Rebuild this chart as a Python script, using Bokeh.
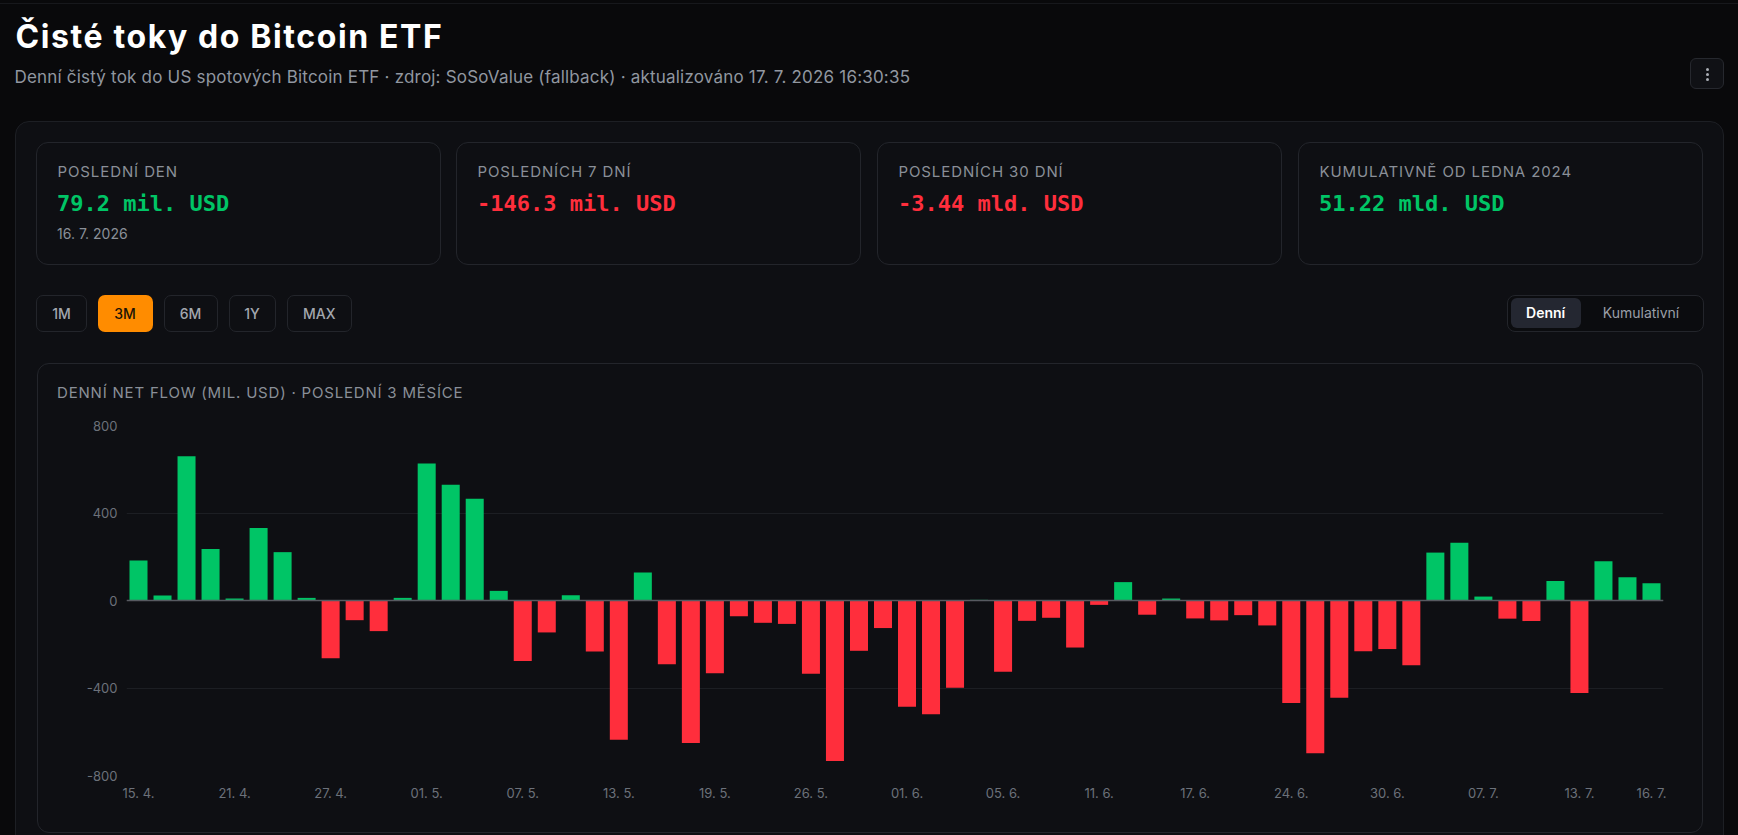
from datetime import date

from bokeh.embed import file_html
from bokeh.layouts import column
from bokeh.models import ColumnDataSource, Div, FixedTicker, Range1d, Span
from bokeh.plotting import figure
from bokeh.resources import INLINE

# ---------------------------------------------------------------- data
trade_dates = [
    "2026-04-15", "2026-04-16", "2026-04-17", "2026-04-20", "2026-04-21",
    "2026-04-22", "2026-04-23", "2026-04-24", "2026-04-27", "2026-04-28",
    "2026-04-29", "2026-04-30", "2026-05-01", "2026-05-04", "2026-05-05",
    "2026-05-06", "2026-05-07", "2026-05-08", "2026-05-11", "2026-05-12",
    "2026-05-13", "2026-05-14", "2026-05-15", "2026-05-18", "2026-05-19",
    "2026-05-20", "2026-05-21", "2026-05-22", "2026-05-26", "2026-05-27",
    "2026-05-28", "2026-05-29", "2026-06-01", "2026-06-02", "2026-06-03",
    "2026-06-04", "2026-06-05", "2026-06-08", "2026-06-09", "2026-06-10",
    "2026-06-11", "2026-06-12", "2026-06-15", "2026-06-16", "2026-06-17",
    "2026-06-18", "2026-06-22", "2026-06-23", "2026-06-24", "2026-06-25",
    "2026-06-26", "2026-06-29", "2026-06-30", "2026-07-01", "2026-07-02",
    "2026-07-06", "2026-07-07", "2026-07-08", "2026-07-09", "2026-07-10",
    "2026-07-13", "2026-07-14", "2026-07-15", "2026-07-16",
]

# daily net flow, mil. USD
net_flow = [
    183, 23, 660, 235, 9, 332, 221, 12, -264, -90,
    -140, 12, 626, 529, 465, 44, -277, -146, 24, -233,
    -637, 128, -291, -651, -332, -72, -102, -107, -335, -734,
    -230, -126, -486, -520, -399, 3, -326, -93, -79, -215,
    -20, 84, -65, 9, -82, -91, -67, -114, -469, -698,
    -445, -232, -222, -296, 219, 264, 18, -83, -94, 89,
    -423, 179, 106.5, 79.2,
]

y_ticks = [-800, -400, 0, 400, 800]
x_tick_idx = [0, 4, 8, 12, 16, 20, 24, 28, 32, 36, 40, 44, 48, 52, 56, 60, 63]

stat_labels = ["POSLEDNÍ DEN", "POSLEDNÍCH 7 DNÍ", "POSLEDNÍCH 30 DNÍ", "KUMULATIVNĚ OD LEDNA 2024"]
stat_values = ["79.2 mil. USD", "-146.3 mil. USD", "-3.44 mld. USD", "51.22 mld. USD"]
stat_notes = ["16. 7. 2026", "", "", ""]

range_buttons = ["1M", "3M", "6M", "1Y", "MAX"]
active_range = "3M"

# ---------------------------------------------------------------- style
PAGE_BG = "#09090b"
PANEL_BG = "#0e0f13"
BORDER = "#23252b"
GREEN = "#00c566"
RED = "#ff2e3c"
ORANGE = "#ff8c00"
MUTED = "#8a8f98"
AXIS_TXT = "#6c717a"

INTER_BASE = 0.864   # baseline offset for line-height 1em
MONO_BASE = 0.846


def text_at(x, baseline, s, size, color, weight=400, family="Inter,sans-serif",
            base=INTER_BASE, extra=""):
    top = baseline - base * size
    return (f'<div style="position:absolute;left:{x}px;top:{top:.1f}px;'
            f'font-family:{family};font-size:{size}px;line-height:{size}px;'
            f'font-weight:{weight};color:{color};white-space:nowrap;{extra}">{s}</div>')


def box(x, y, w, h, bg, border, radius, inner="", extra=""):
    b = f"border:1px solid {border};" if border else ""
    return (f'<div style="position:absolute;left:{x}px;top:{y}px;width:{w}px;height:{h}px;'
            f'background:{bg};{b}border-radius:{radius}px;box-sizing:border-box;{extra}">'
            f'{inner}</div>')


def centered(label, size, color, weight=400):
    return (f'<div style="display:flex;align-items:center;justify-content:center;'
            f'width:100%;height:100%;font-family:Inter,sans-serif;font-size:{size}px;'
            f'font-weight:{weight};color:{color};white-space:nowrap;">{label}</div>')


parts = []
parts.append(box(0, 3, 1738, 1, "#17181c", None, 0))

# header
parts.append(text_at(15.5, 48.3, "Čisté toky do Bitcoin ETF", 32, "#ffffff", weight=700,
                     extra="letter-spacing:1.6px;"))
parts.append(text_at(14.5, 83.3,
                     "Denní čistý tok do US spotových Bitcoin ETF · zdroj: SoSoValue (fallback) · "
                     "aktualizováno 17. 7. 2026 16:30:35", 17, "#9197a0",
                     extra="letter-spacing:0.2px;"))
dots = "".join(
    f'<div style="position:absolute;left:15px;top:{9 + i * 5}px;width:3px;height:3px;'
    f'border-radius:50%;background:#a9adb4;"></div>' for i in range(3))
parts.append(box(1690, 58, 34, 31, "#101115", "#26282e", 6, inner=dots))

# outer panel
parts.append(box(15, 120.5, 1709, 740, PANEL_BG, "#1d1f24", 14))

# stat cards
card_left = [36, 456, 877, 1298]
for i, cx in enumerate(card_left):
    parts.append(box(cx, 141.5, 405, 123, PANEL_BG, BORDER, 12))
    val_color = RED if stat_values[i].startswith("-") else GREEN
    parts.append(text_at(cx + 21.5, 177.2, stat_labels[i], 15, MUTED,
                         extra="letter-spacing:0.9px;"))
    parts.append(text_at(cx + 21, 211.5, stat_values[i], 22, val_color, weight=700,
                         family="'DejaVu Sans Mono',monospace", base=MONO_BASE))
    if stat_notes[i]:
        parts.append(text_at(cx + 21, 239, stat_notes[i], 14, MUTED))

# range buttons
btn_geo = [(36, 51), (97.5, 55), (163.5, 54), (228.5, 47), (286.5, 65.5)]
for label, (bx, bw) in zip(range_buttons, btn_geo):
    if label == active_range:
        parts.append(box(bx, 295, bw, 37, ORANGE, None, 7,
                         inner=centered(label, 14, "#1b1306", 500)))
    else:
        parts.append(box(bx, 295, bw, 37, PANEL_BG, BORDER, 7,
                         inner=centered(label, 14, "#a3a7ae", 500)))

# daily / cumulative toggle
parts.append(box(1507, 295, 197, 37, "#0b0c0f", BORDER, 8))
parts.append(box(1510.7, 298.3, 70, 29.5, "#242731", None, 6,
                 inner=centered("Denní", 14, "#ffffff", 600)))
parts.append(box(1581, 298.3, 120, 29.5, "transparent", None, 6,
                 inner=centered("Kumulativní", 14, "#9a9fa7", 400)))

# chart panel
parts.append(box(36.5, 362.5, 1666, 470, PANEL_BG, BORDER, 12))
parts.append(text_at(57, 398.3, "DENNÍ NET FLOW (MIL. USD) · POSLEDNÍ 3 MĚSÍCE", 15, MUTED,
                     extra="letter-spacing:0.8px;"))

page_html = (f'<div style="position:relative;width:1738px;height:835px;background:{PAGE_BG};'
             f'overflow:hidden;">' + "".join(parts) + "</div>")

page = Div(text=page_html, width=1738, height=835, margin=0)

# ---------------------------------------------------------------- chart
def tick_label(iso):
    d = date.fromisoformat(iso)
    return f"{d.day:02d}. {d.month}."


idx = list(range(len(trade_dates)))
src = ColumnDataSource(dict(
    idx=idx,
    flow=net_flow,
    color=[GREEN if v >= 0 else RED for v in net_flow],
))

p = figure(
    width=1667, height=471, output_backend="svg", toolbar_location=None,
    x_range=Range1d(-0.5, len(trade_dates) - 0.5), y_range=Range1d(-800, 800),
    min_border_left=90, min_border_right=40, min_border_top=63, min_border_bottom=58,
    background_fill_alpha=0, border_fill_alpha=0, outline_line_color=None,
    margin=(-473, 0, 0, 36),
)

p.vbar(x="idx", top="flow", bottom=0, width=0.75, source=src,
       fill_color="color", line_color=None)

p.add_layout(Span(location=0, dimension="width", line_color="#575a61", line_width=1.5))

p.xgrid.grid_line_color = None
p.ygrid.grid_line_color = "#1c1e23"
p.ygrid.grid_line_width = 1
p.ygrid.ticker = FixedTicker(ticks=y_ticks)

p.yaxis.ticker = FixedTicker(ticks=y_ticks)
p.yaxis.major_label_overrides = {t: str(t) for t in y_ticks}
p.xaxis.ticker = FixedTicker(ticks=x_tick_idx)
p.xaxis.major_label_overrides = {i: tick_label(trade_dates[i]) for i in x_tick_idx}

for ax in (p.xaxis[0], p.yaxis[0]):
    ax.axis_line_color = None
    ax.major_tick_line_color = None
    ax.minor_tick_line_color = None
    ax.major_tick_out = 0
    ax.major_tick_in = 0
    ax.major_label_text_font = "Inter"
    ax.major_label_text_font_size = "13px"
    ax.major_label_text_color = AXIS_TXT
p.yaxis.major_label_standoff = 9
p.xaxis.major_label_standoff = 9

root = column(page, p, width=1738, height=835, spacing=0, margin=0)

open("out.html", "w").write(file_html(root, INLINE))
